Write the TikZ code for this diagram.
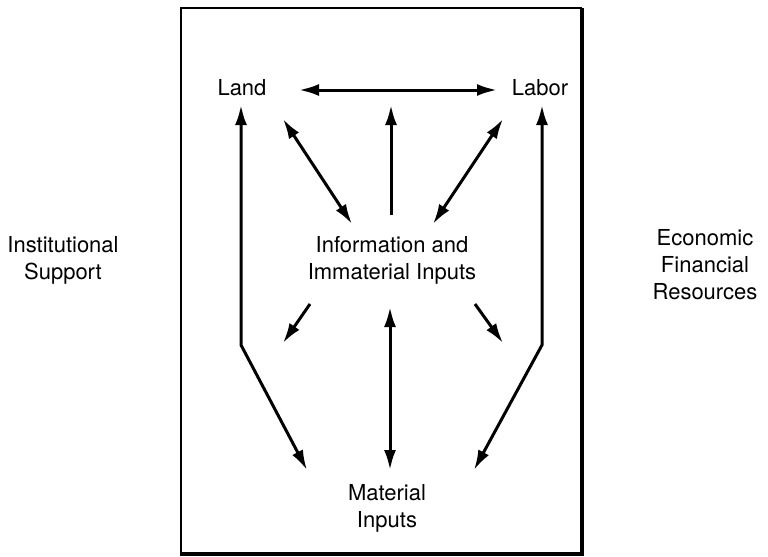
\documentclass[tikz,border=0pt]{standalone}
\usepackage{fontspec}
\setmainfont{TeX Gyre Heros}
\usetikzlibrary{arrows.meta}
\begin{document}
\begin{tikzpicture}[x=0.5pt,y=-0.5pt,
  >={Latex[length=10pt,width=6pt]},
  label/.style={font=\fontsize{11}{13.5}\selectfont, align=center, inner sep=0pt},
  link/.style={line width=1.5pt},
  frameline/.style={line width=1pt},
  heavyline/.style={line width=2pt}]
\useasboundingbox (0,0) rectangle (768,557);

% frame
\draw[frameline] (181,554) -- (181,8) -- (582,8);
\draw[heavyline] (582,8) -- (582,554) -- (180,554);

% labels
\node[label] (land)  at (242,88)  {Land};
\node[label] (labor) at (540,88)  {Labor};
\node[label] (info)  at (392,260) {Information and\\Immaterial Inputs};
\node[label] (mat)   at (387,508) {Material\\Inputs};
\node[label] (inst)  at (63,260)  {Institutional\\Support};
\node[label] (econ)  at (705,265) {Economic\\Financial\\Resources};

% arrow ends
\coordinate (hL) at (299,90);   \coordinate (hR) at (497,90);
\coordinate (landUp) at (241,105);  \coordinate (landBend) at (241,345);
\coordinate (laborUp) at (542,105); \coordinate (laborBend) at (542,345);
\coordinate (matL) at (307,470);    \coordinate (matR) at (474,470);
\coordinate (matC) at (390,470);    \coordinate (infoDown) at (390,307);
\coordinate (dLt) at (283,119);     \coordinate (dLb) at (352,224);
\coordinate (dRt) at (503,119);     \coordinate (dRb) at (433,224);
\coordinate (infoUpS) at (391,215); \coordinate (infoUpT) at (391,105);
\coordinate (sLs) at (310,304);     \coordinate (sLt) at (283,343);
\coordinate (sRs) at (475,304);     \coordinate (sRt) at (503,343);

% connectors
\draw[link,<->] (hL) -- (hR);
\draw[link,<->] (landUp) -- (landBend) -- (matL);
\draw[link,<->] (laborUp) -- (laborBend) -- (matR);
\draw[link,<->] (dLt) -- (dLb);
\draw[link,<->] (dRt) -- (dRb);
\draw[link,->] (infoUpS) -- (infoUpT);
\draw[link,<->] (infoDown) -- (matC);
\draw[link,->] (sLs) -- (sLt);
\draw[link,->] (sRs) -- (sRt);
\end{tikzpicture}
\end{document}
